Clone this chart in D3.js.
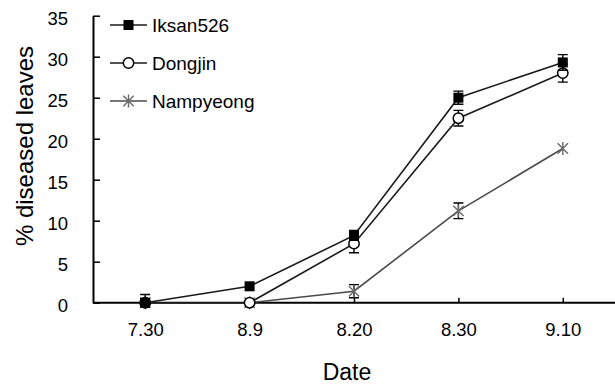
<!DOCTYPE html>
<html><head><meta charset="utf-8">
<script src="https://cdn.jsdelivr.net/npm/d3@7"></script>
<style>body{margin:0;background:#fff}svg{display:block}text{font-family:"Liberation Sans",Arial,sans-serif;fill:#000}</style>
</head><body>
<script>
const categories = ["7.30", "8.9", "8.20", "8.30", "9.10"];
const yTicks = [0, 5, 10, 15, 20, 25, 30, 35];
const iksanValues = [0, 2.0, 8.2, 25.0, 29.3];
const iksanErrors = [0, 0, 0.6, 0.8, 0.95];
const dongjinValues = [0, 0, 7.2, 22.5, 28.0];
const dongjinErrors = [1.0, 0, 1.1, 0.95, 1.1];
const nampyeongValues = [0, 0, 1.4, 11.2, 18.8];
const nampyeongErrors = [0, 0, 0.8, 0.95, 0];
const seriesNames = ["Iksan526", "Dongjin", "Nampyeong"];

const W = 615, H = 385;
const svg = d3.select("body").append("svg").attr("width", W).attr("height", H);
const x = d3.scalePoint().domain(categories).range([93, 615]).padding(0.5);
const y = d3.scaleLinear().domain([0, 35]).range([302.7, 15.7]);

const series = [
  {name: seriesNames[0], values: iksanValues, errors: iksanErrors, line: "#1a1a1a", marker: "square"},
  {name: seriesNames[1], values: dongjinValues, errors: dongjinErrors, line: "#1a1a1a", marker: "circle"},
  {name: seriesNames[2], values: nampyeongValues, errors: nampyeongErrors, line: "#4a4a4a", marker: "star"}
];

// axes
const yAxis = d3.axisLeft(y).tickValues(yTicks).tickSize(-7).tickPadding(25).tickSizeOuter(0);
const gy = svg.append("g").attr("transform", "translate(93,0)").call(yAxis);
gy.select(".domain").attr("stroke", "#000").attr("stroke-width", 2);
gy.selectAll(".tick line").attr("stroke", "#000").attr("stroke-width", 1.5);
gy.selectAll(".tick text").attr("font-size", 18.5).attr("dy", "0.48em")
  .style("font-family", "Liberation Sans, Arial, sans-serif");

const xAxis = d3.axisBottom(x).tickSize(-5).tickPadding(20).tickSizeOuter(0);
const gx = svg.append("g").attr("transform", "translate(0,302.7)").call(xAxis);
gx.select(".domain").attr("stroke", "#000").attr("stroke-width", 2).attr("d", "M93,0H615");
gx.selectAll(".tick line").attr("stroke", "#000").attr("stroke-width", 1.5);
gx.selectAll(".tick text").attr("font-size", 18.5).attr("dy", "0.71em")
  .style("font-family", "Liberation Sans, Arial, sans-serif");

// axis titles
const yTitle = svg.append("text").attr("transform", "translate(33,146) rotate(-90)")
  .attr("text-anchor", "middle").attr("font-size", 22).text("% diseased leaves");
const len = yTitle.node().getComputedTextLength();
if (len > 0) yTitle.attr("font-size", Math.min(24, 22 * 212 / len));
svg.append("text").attr("x", 347).attr("y", 380).attr("text-anchor", "middle")
  .attr("font-size", 23).text("Date");

function drawMarker(g, type, cx, cy) {
  if (type === "square") {
    g.append("rect").attr("x", cx - 5).attr("y", cy - 5).attr("width", 10).attr("height", 10).attr("fill", "#000");
  } else if (type === "circle") {
    g.append("circle").attr("cx", cx).attr("cy", cy).attr("r", 5.2).attr("fill", "#fff").attr("stroke", "#000").attr("stroke-width", 1.5);
  } else {
    const r = 6.5, d = r * 0.8;
    g.append("path").attr("d", `M${cx},${cy - r}V${cy + r}M${cx - d},${cy - d}L${cx + d},${cy + d}M${cx - d},${cy + d}L${cx + d},${cy - d}`)
      .attr("stroke", "#6a6a6a").attr("stroke-width", 1.4).attr("fill", "none");
  }
}

const line = d3.line().x((d, i) => x(categories[i])).y(d => y(d));
const plot = svg.append("g");
series.slice().reverse().forEach(s => {
  plot.append("path").attr("d", line(s.values)).attr("fill", "none")
    .attr("stroke", s.line).attr("stroke-width", 1.6);
});
series.slice().reverse().forEach(s => {
  const g = plot.append("g");
  s.values.forEach((v, i) => {
    const e = s.errors[i];
    const cx = x(categories[i]);
    if (e > 0) {
      const y1 = y(v + e), y2 = y(Math.max(0, v - e));
      g.append("path").attr("d", `M${cx},${y1}V${y2}M${cx - 5},${y1}H${cx + 5}M${cx - 5},${y2}H${cx + 5}`)
        .attr("stroke", "#000").attr("stroke-width", 1.4).attr("fill", "none");
    }
  });
  s.values.forEach((v, i) => drawMarker(g, s.marker, x(categories[i]), y(v)));
});

// legend
const legendY = [25, 63, 101];
series.forEach((s, i) => {
  const g = svg.append("g");
  g.append("line").attr("x1", 110).attr("x2", 147).attr("y1", legendY[i]).attr("y2", legendY[i])
    .attr("stroke", s.line).attr("stroke-width", 1.6);
  drawMarker(g, s.marker, 128.5, legendY[i]);
  g.append("text").attr("x", 152).attr("y", legendY[i]).attr("dy", "0.36em")
    .attr("font-size", 19).text(s.name);
});
</script>
</body></html>
